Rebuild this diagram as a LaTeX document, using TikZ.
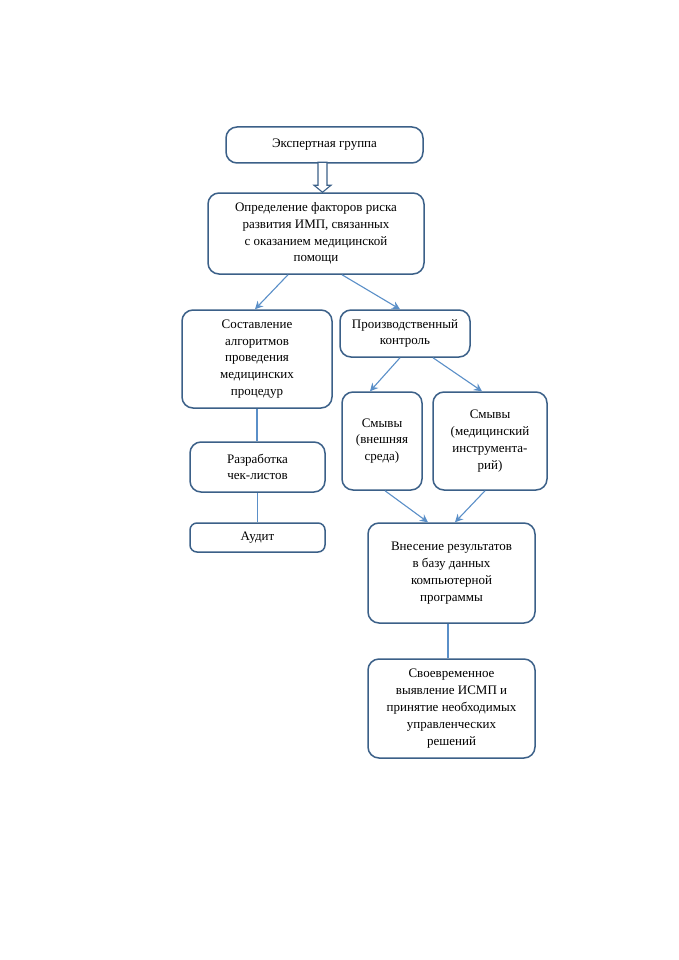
\documentclass[tikz,border=0pt]{standalone}
\usepackage{fontspec}
\setmainfont{Liberation Serif}
\usetikzlibrary{arrows.meta}
\definecolor{bord}{HTML}{3B6088}
\definecolor{conn}{HTML}{5A8FC8}
\begin{document}
\begin{tikzpicture}[x=1pt,y=-1pt,
  box/.style={draw=bord, line width=1.5pt, rounded corners=11pt, align=center, inner sep=0pt, font=\fontsize{13}{16.8}\selectfont},
  arr/.style={draw=conn, line width=1.1pt, -{Stealth[length=8pt,width=8pt]}},
  ln/.style={draw=conn, line width=1.3pt},
  hollow/.style={draw=bord, line width=1.1pt, fill=white}]
\fill[white] (0,0) rectangle (678,960);
\useasboundingbox (0,0) rectangle (678,960);
\node[box, minimum width=197pt, minimum height=36pt] (b1) at (324.5,145) {Экспертная группа};
\node[box, minimum width=216pt, minimum height=81pt] (b2) at (316,233.5) {Определение факторов риска\\развития ИМП, связанных\\с оказанием медицинской\\помощи};
\node[box, minimum width=150pt, minimum height=98pt] (b3) at (257,359) {Составление\\алгоритмов\\проведения\\медицинских\\процедур};
\node[box, minimum width=130pt, minimum height=47pt] (b4) at (405,333.5) {Производственный\\контроль};
\node[box, minimum width=80pt, minimum height=98pt] (b5) at (382,441) {Смывы\\(внешняя\\среда)};
\node[box, minimum width=114pt, minimum height=98pt] (b6) at (490,441) {Смывы\\(медицинский\\инструмента-\\рий)};
\node[box, minimum width=135pt, minimum height=50pt] (b7) at (257.5,467) {Разработка\\чек-листов};
\node[box, minimum width=135pt, minimum height=29pt, rounded corners=7pt] (b8) at (257.5,537.5) {Аудит};
\node[box, minimum width=167pt, minimum height=100pt] (b9) at (451.5,573) {Внесение результатов\\в базу данных\\компьютерной\\программы};
\node[box, minimum width=167pt, minimum height=99pt] (b10) at (451.5,708.5) {Своевременное\\выявление ИСМП и\\принятие необходимых\\управленческих\\решений};
% hollow arrow
\coordinate (tip) at ([xshift=-2pt]b1.south |- b2.north);
\draw[hollow] (tip) -- ++(-8.5,-7) -- ++(4,0) -- ++(0,-23) -- ++(9,0) -- ++(0,23) -- ++(4,0) -- cycle;
% arrows
\draw[arr] ([xshift=-28pt]b2.south) -- ([xshift=-2pt]b3.north);
\draw[arr] ([xshift=26pt]b2.south) -- ([xshift=-5pt]b4.north);
\draw[arr] ([xshift=-5pt]b4.south) -- ([xshift=-12pt]b5.north);
\draw[arr] ([xshift=28pt]b4.south) -- ([xshift=-8pt]b6.north);
\draw[arr] ([xshift=3pt]b5.south) -- ([xshift=-23.5pt]b9.north);
\draw[arr] ([xshift=-5pt]b6.south) -- ([xshift=3.5pt]b9.north);
% lines
\draw[ln] (b3.south) -- (b3.south |- b7.north);
\draw[ln] (b7.south) -- (b7.south |- b8.north);
\draw[ln] ([xshift=-3.5pt]b9.south) -- ([xshift=-3.5pt]b10.north);
\end{tikzpicture}
\end{document}
